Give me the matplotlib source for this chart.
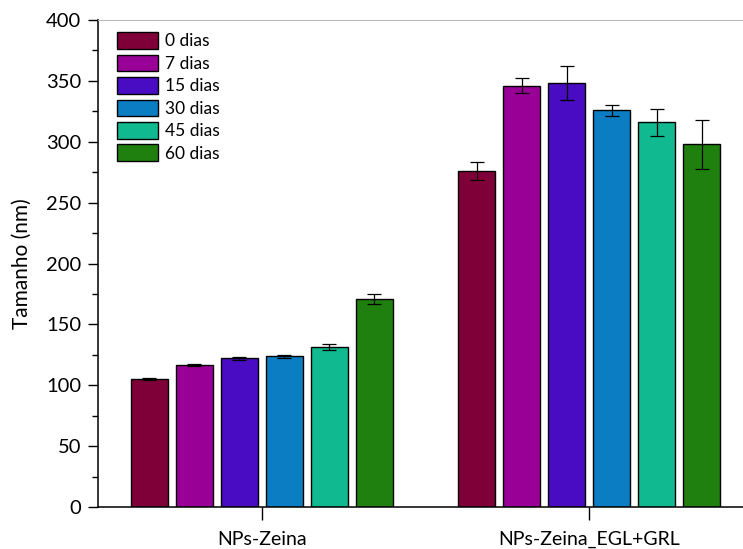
import numpy as np
import matplotlib.pyplot as plt
from matplotlib.ticker import MultipleLocator

plt.rcParams['font.family'] = ['Lato', 'DejaVu Sans']

grupos = ['NPs-Zeina', 'NPs-Zeina_EGL+GRL']
dias = ['0 dias', '7 dias', '15 dias', '30 dias', '45 dias', '60 dias']
cores = ['#7f0039', '#990096', '#4a0cc2', '#0b7dc2', '#10b990', '#20800f']

# tamanho medio por grupo (linhas = dias)
tamanho = [[105, 276],
           [116.6, 346],
           [122, 348],
           [123.8, 326],
           [131.7, 316],
           [170.8, 298]]
erro = [[1, 7],
        [1, 6],
        [1.5, 14],
        [1, 4.5],
        [2.5, 11],
        [4, 20]]

fig = plt.figure(figsize=(7.43, 5.49), dpi=100)
ax = fig.add_axes([0.132, 0.0765, 0.868, 0.887])

x = np.arange(len(grupos))
passo = 0.1376
larg = 0.113
for i in range(len(dias)):
    pos = x + (i - 2.5) * passo
    ax.bar(pos, tamanho[i], larg, color=cores[i], edgecolor='black',
           linewidth=1, label=dias[i], zorder=2)
    ax.errorbar(pos, tamanho[i], yerr=erro[i], fmt='none', ecolor='black',
                elinewidth=0.9, capsize=5, capthick=0.9, zorder=3)

ax.set_xlim(-0.5, 1.47)
ax.set_ylim(0, 400)
ax.set_xticks(x)
ax.set_xticklabels(grupos, fontsize=14)
ax.yaxis.set_major_locator(MultipleLocator(50))
ax.yaxis.set_minor_locator(MultipleLocator(25))
ax.tick_params(axis='y', which='major', direction='out', length=7, width=1, labelsize=14.5, pad=5)
ax.tick_params(axis='y', which='minor', direction='out', length=4, width=1)
ax.tick_params(axis='x', direction='out', length=9, width=1, pad=8)
ax.set_ylabel('Tamanho (nm)', fontsize=15, labelpad=10)

ax.spines['top'].set_color('#bbbbbb')
ax.spines['right'].set_visible(False)
ax.spines['left'].set_linewidth(1.1)
ax.spines['bottom'].set_linewidth(1.1)

ax.legend(loc='upper left', frameon=False, fontsize=12.5, handlelength=2.4,
          handleheight=1.1, labelspacing=0.3, handletextpad=0.4,
          bbox_to_anchor=(0.01, 1.0), borderaxespad=0.3)

fig.savefig('out.png', dpi=100)
